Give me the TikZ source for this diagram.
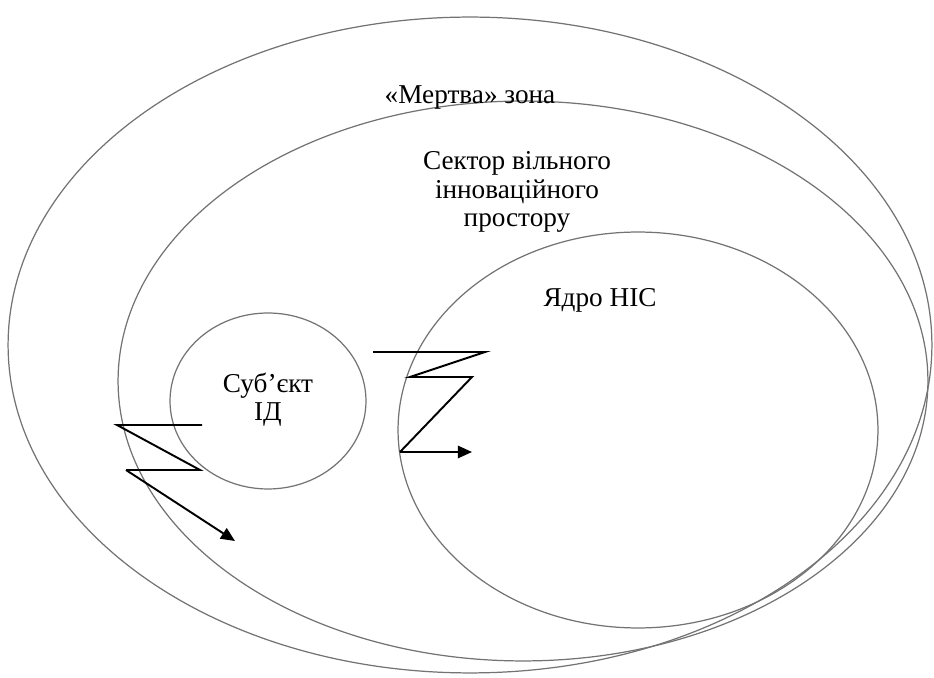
\documentclass[tikz,border=0pt]{standalone}
\usepackage{fontspec}
\setmainfont{Liberation Serif}
\usetikzlibrary{positioning,shapes.geometric,arrows.meta}

\begin{document}
\begin{tikzpicture}[x=0.02cm, y=-0.02cm,
  zone/.style={draw=black!55, line width=0.7pt, ellipse, inner sep=0pt},
  lbl/.style={align=center, font=\fontsize{15.5}{16}\selectfont},
  zig/.style={line width=1.1pt, line join=miter},
  tip/.style={-{Triangle[length=8pt,width=7pt]}}]
\useasboundingbox (0,0) rectangle (934,678);

\node[zone, minimum width=18.48cm, minimum height=13.12cm] (dead) at (470,345) {};
\node[zone, minimum width=16.2cm, minimum height=11.2cm] (sector) at (523,381) {};
\node[zone, minimum width=9.6cm, minimum height=7.92cm] (core) at (638,430) {};
\node[zone, minimum width=3.92cm, minimum height=3.52cm] (subj) at (268,401) {};

\node[lbl] (deadtxt) at (470,97) {«Мертва» зона};
\node[lbl] (sectortxt) at (517,192) {Сектор вільного\\інноваційного\\простору};
\node[lbl] (coretxt) at (600,300) {Ядро НІС};
\node[lbl] (subjtxt) at (268,400) {Суб’єкт\\ІД};

% zigzag from the subject
\coordinate (a1) at (202,425);
\coordinate (a2) at (117,425);
\coordinate (a3) at (200,470);
\coordinate (a4) at (126,470);
\coordinate (a5) at (235,541);
\draw[zig] (a1) -- (a2) -- (a3) -- (a4);
\draw[zig, tip] (a4) -- (a5);

% zigzag into the core
\coordinate (b1) at (373,352);
\coordinate (b2) at (485,352);
\coordinate (b3) at (410,377);
\coordinate (b4) at (472,377);
\coordinate (b5) at (400,452);
\coordinate (b6) at (472,452);
\draw[zig] (b1) -- (b2) -- (b3) -- (b4) -- (b5);
\draw[zig, tip] (b5) -- (b6);

\end{tikzpicture}
\end{document}
